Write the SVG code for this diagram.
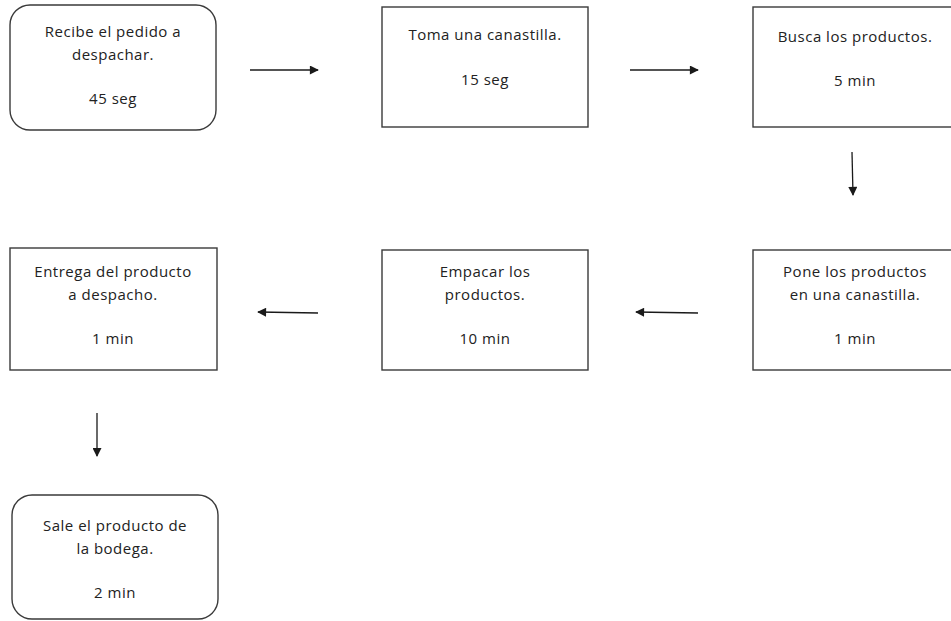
<svg xmlns="http://www.w3.org/2000/svg" width="951" height="621" viewBox="0 0 951 621">
  <style>
    .box { fill: #ffffff; stroke: #3a3a3a; stroke-width: 1.4; }
    .lbl { font-family: "Open Sans", "Noto Sans", "Liberation Sans", sans-serif; font-size: 15px; letter-spacing: 0.5px; fill: #222222; text-anchor: middle; }
    .arr { stroke: #1a1a1a; stroke-width: 1.3; fill: none; marker-end: url(#head); }
  </style>
  <defs>
    <marker id="head" viewBox="0 0 10 10" refX="9" refY="5" markerWidth="10" markerHeight="9" markerUnits="userSpaceOnUse" orient="auto">
      <path d="M0,0 L10,5 L0,10 z" fill="#1a1a1a"/>
    </marker>
  </defs>
  <rect width="951" height="621" fill="#ffffff"/>

  <g id="n1">
    <rect class="box" x="10" y="5" width="206" height="125" rx="20" ry="20"/>
    <text class="lbl" x="113" y="37">Recibe el pedido a</text>
    <text class="lbl" x="113" y="60">despachar.</text>
    <text class="lbl" x="113" y="104">45 seg</text>
  </g>
  <g id="n2">
    <rect class="box" x="382" y="7" width="206" height="120"/>
    <text class="lbl" x="485" y="40">Toma una canastilla.</text>
    <text class="lbl" x="485" y="85">15 seg</text>
  </g>
  <g id="n3">
    <rect class="box" x="753" y="7" width="206" height="120"/>
    <text class="lbl" x="855" y="42">Busca los productos.</text>
    <text class="lbl" x="855" y="86">5 min</text>
  </g>
  <g id="n4">
    <rect class="box" x="753" y="250" width="206" height="120"/>
    <text class="lbl" x="855" y="277">Pone los productos</text>
    <text class="lbl" x="855" y="300">en una canastilla.</text>
    <text class="lbl" x="855" y="344">1 min</text>
  </g>
  <g id="n5">
    <rect class="box" x="382" y="250" width="206" height="120"/>
    <text class="lbl" x="485" y="277">Empacar los</text>
    <text class="lbl" x="485" y="300">productos.</text>
    <text class="lbl" x="485" y="344">10 min</text>
  </g>
  <g id="n6">
    <rect class="box" x="10" y="248" width="207" height="122"/>
    <text class="lbl" x="113" y="277">Entrega del producto</text>
    <text class="lbl" x="113" y="300">a despacho.</text>
    <text class="lbl" x="113" y="344">1 min</text>
  </g>
  <g id="n7">
    <rect class="box" x="12" y="495" width="206" height="124" rx="20" ry="20"/>
    <text class="lbl" x="115" y="531">Sale el producto de</text>
    <text class="lbl" x="115" y="554">la bodega.</text>
    <text class="lbl" x="115" y="598">2 min</text>
  </g>

  <g id="connectors">
    <line class="arr" x1="250" y1="70" x2="318" y2="70"/>
    <line class="arr" x1="630" y1="70" x2="698" y2="70"/>
    <line class="arr" x1="852" y1="152" x2="853" y2="195"/>
    <line class="arr" x1="698" y1="313" x2="636" y2="312"/>
    <line class="arr" x1="318" y1="313" x2="258" y2="312"/>
    <line class="arr" x1="97" y1="413" x2="97" y2="456"/>
  </g>
</svg>
